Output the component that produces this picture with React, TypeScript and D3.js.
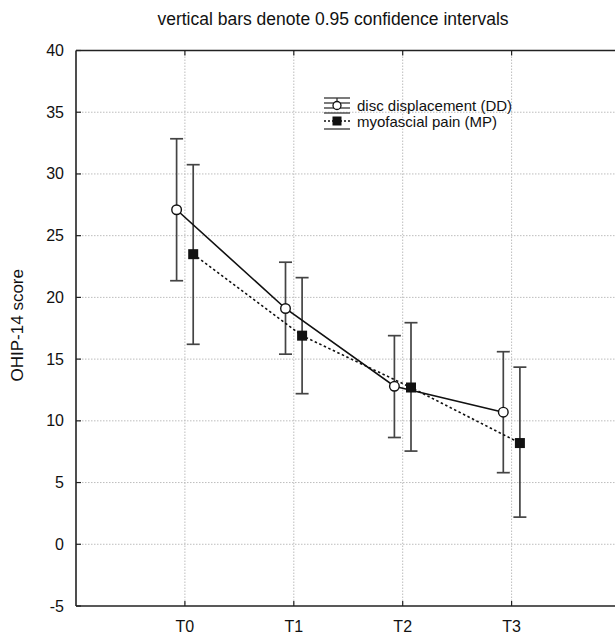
import React from 'react'
import * as d3 from 'd3'

// time points
const times = ['T0', 'T1', 'T2', 'T3']
const yTicks = [-5, 0, 5, 10, 15, 20, 25, 30, 35, 40]

// disc displacement (DD): mean, upper and lower 0.95 CI
const ddMean = [27.1, 19.1, 12.8, 10.7]
const ddHigh = [32.85, 22.85, 16.9, 15.6]
const ddLow = [21.35, 15.4, 8.65, 5.8]

// myofascial pain (MP)
const mpMean = [23.5, 16.9, 12.7, 8.2]
const mpHigh = [30.75, 21.6, 17.95, 14.35]
const mpLow = [16.2, 12.2, 7.55, 2.2]

const W = 615
const H = 637
const marginLeft = 76
const marginTop = 50.5
const plotBottom = 606
const plotRight = 620.5
const font = 'Liberation Sans, Arial, sans-serif'

export default function App() {
  const x = d3.scaleLinear().domain([-1, 4]).range([marginLeft, plotRight])
  const y = d3.scaleLinear().domain([-5, 40]).range([plotBottom, marginTop])
  const off = 8.3
  const cap = 6.5

  const series = [
    { name: 'disc displacement (DD)', mean: ddMean, hi: ddHigh, lo: ddLow, dx: -off, dash: null },
    { name: 'myofascial pain (MP)', mean: mpMean, hi: mpHigh, lo: mpLow, dx: off, dash: '2.5,2.5' },
  ]

  const line = (s: any) =>
    d3.line<number>()
      .x((d, i) => x(i) + s.dx)
      .y(d => y(d))(s.mean)

  return (
    <svg width={W} height={H} style={{ position: 'absolute', left: 0, top: 0, background: '#fff' }}>
      <text x={333} y={25} textAnchor="middle" fontFamily={font} fontSize={17.5} fill="#111">
        vertical bars denote 0.95 confidence intervals
      </text>

      {/* grid */}
      <g stroke="#bdbdbd" strokeWidth={1} strokeDasharray="1.5,1.5">
        {yTicks.filter(t => t > -5 && t < 40).map(t => (
          <line key={t} x1={marginLeft} x2={plotRight} y1={y(t)} y2={y(t)} />
        ))}
        {times.map((t, i) => (
          <line key={t} x1={x(i)} x2={x(i)} y1={marginTop} y2={plotBottom} />
        ))}
      </g>

      {/* frame */}
      <g stroke="#222" strokeWidth={1.6} fill="none">
        <line x1={marginLeft} x2={marginLeft} y1={marginTop} y2={plotBottom} />
        <line x1={marginLeft} x2={plotRight} y1={plotBottom} y2={plotBottom} />
        <line x1={marginLeft} x2={plotRight} y1={marginTop} y2={marginTop} />
      </g>
      <g stroke="#222" strokeWidth={1.2}>
        {yTicks.map(t => (
          <line key={t} x1={marginLeft} x2={marginLeft + 5} y1={y(t)} y2={y(t)} />
        ))}
        {times.map((t, i) => (
          <g key={t}>
            <line x1={x(i)} x2={x(i)} y1={plotBottom} y2={plotBottom - 5} />
            <line x1={x(i)} x2={x(i)} y1={marginTop} y2={marginTop + 5} />
          </g>
        ))}
      </g>

      {/* tick labels */}
      <g fontFamily={font} fontSize={16} fill="#111">
        {yTicks.map(t => (
          <text key={t} x={marginLeft - 12} y={y(t) + 5.5} textAnchor="end">{t}</text>
        ))}
        {times.map((t, i) => (
          <text key={t} x={x(i)} y={632} textAnchor="middle">{t}</text>
        ))}
      </g>
      <text transform={`translate(23,${(marginTop + plotBottom) / 2 - 3}) rotate(-90)`} textAnchor="middle"
        fontFamily={font} fontSize={17} fill="#111">OHIP-14 score</text>

      {/* error bars */}
      {series.map(s => (
        <g key={s.name} stroke="#444" strokeWidth={1.7}>
          {s.mean.map((m, i) => (
            <g key={i}>
              <line x1={x(i) + s.dx} x2={x(i) + s.dx} y1={y(s.hi[i])} y2={y(s.lo[i])} />
              <line x1={x(i) + s.dx - cap} x2={x(i) + s.dx + cap} y1={y(s.hi[i])} y2={y(s.hi[i])} />
              <line x1={x(i) + s.dx - cap} x2={x(i) + s.dx + cap} y1={y(s.lo[i])} y2={y(s.lo[i])} />
            </g>
          ))}
        </g>
      ))}

      {/* mean lines */}
      {series.map(s => (
        <path key={s.name} d={line(s) || ''} fill="none" stroke="#111" strokeWidth={1.6}
          strokeDasharray={s.dash || undefined} />
      ))}

      {/* markers */}
      {ddMean.map((m, i) => (
        <circle key={i} cx={x(i) - off} cy={y(m)} r={4.8} fill="#fff" stroke="#111" strokeWidth={1.4} />
      ))}
      {mpMean.map((m, i) => (
        <rect key={i} x={x(i) + off - 5} y={y(m) - 5} width={10} height={10} fill="#111" />
      ))}

      {/* legend */}
      <g>
        <g stroke="#333" strokeWidth={1.3}>
          <line x1={324} x2={350} y1={98} y2={98} />
          <line x1={324} x2={350} y1={103} y2={103} />
          <line x1={324} x2={350} y1={108} y2={108} />
          <line x1={324} x2={350} y1={113} y2={113} />
          <line x1={324} x2={350} y1={129} y2={129} />
          <line x1={337} x2={337} y1={98} y2={105} />
        </g>
        <line x1={324} x2={350} y1={121} y2={121} stroke="#111" strokeWidth={1.5} strokeDasharray="2,2" />
        <circle cx={337} cy={105.5} r={4} fill="#fff" stroke="#111" strokeWidth={1.3} />
        <rect x={332.5} y={116.5} width={9} height={9} fill="#111" />
        <text x={357} y={111} fontFamily={font} fontSize={15} fill="#111">disc displacement (DD)</text>
        <text x={357} y={126.5} fontFamily={font} fontSize={15} fill="#111">myofascial pain (MP)</text>
      </g>
    </svg>
  )
}
